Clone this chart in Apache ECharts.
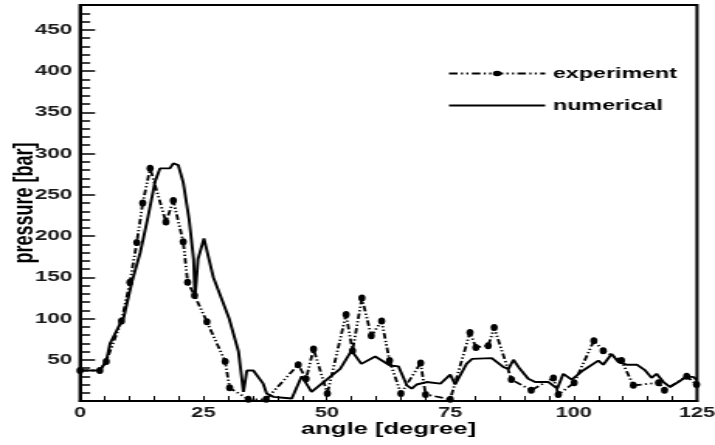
<!DOCTYPE html>
<html>
<head>
<meta charset="utf-8">
<script src="https://cdn.jsdelivr.net/npm/echarts@6/dist/echarts.min.js"></script>
<style>
  html, body { margin: 0; padding: 0; background: #fff; overflow: hidden; }
  #wrap { width: 715px; height: 445px; overflow: hidden; }
  /* the plot is laid out narrow and widened horizontally, giving the wide lettering */
  #chart { width: 461px; height: 445px; transform: scaleX(1.551); transform-origin: 0 0; }
</style>
</head>
<body>
<div id="wrap"><div id="chart"></div></div>
<script>
// measured pressure (dash-dot-dot with markers)
const expAngle = [0, 4, 5.3, 8.4, 10.1, 11.5, 12.7, 14.2, 17.4, 18.9, 20.9, 21.8, 23.2, 25.7, 29.4, 30.3,
  34.1, 37.7, 44.2, 45.8, 47.3, 50.1, 53.9, 55.2, 57.1, 59, 61.1, 62.7, 65, 69, 70, 75, 79, 80.2, 82.7, 83.9,
  87.4, 91.4, 95.9, 96.9, 100.1, 104.1, 106, 109.7, 112.1, 117.2, 118.4, 122.9, 124.9];
const expPressure = [37, 37, 48, 97, 144, 192, 240, 282, 217, 243, 193, 144, 128, 96, 48, 16,
  2, 2, 44, 27, 63, 9, 105, 61, 125, 79, 97, 49, 9, 46, 8, 2, 83, 65, 67, 89,
  26, 13, 28, 8, 22, 73, 61, 49, 19, 22, 13, 30, 20];

// simulated pressure (solid)
const numAngle = [0, 4, 5.3, 6.1, 8.4, 8.8, 10.5, 12.2, 13.8, 15.2, 16.2, 18.2, 18.9, 19.9, 20.9, 22.1, 23, 23.3,
  23.9, 25.1, 27, 30.2, 32.1, 33.1, 33.8, 35.1, 37.1, 37.8, 39.2, 41.1, 42.9, 44.9, 46.9, 50.6, 52.7, 55, 57,
  59.8, 62.8, 64.5, 66.2, 67.2, 68.2, 70.2, 73, 75, 76, 78.3, 79.4, 83.4, 85.8, 86.8, 87.8, 89.1, 90.8, 92.2,
  94.9, 96.7, 97.9, 99.6, 101.9, 105, 106, 107.7, 109.1, 110.7, 112.8, 114.5, 115.8, 116.8, 118.2, 119.5,
  121.2, 122.9, 124.3, 125];
const numPressure = [37, 37, 48, 70, 97, 100, 144, 180, 224, 266, 282, 282, 288, 286, 265, 220, 172, 126,
  172, 197, 150, 100, 60, 11, 37, 37, 21, 9, 5, 4, 3, 30, 11, 29, 39, 61, 45,
  54, 43, 42, 19, 15, 20, 23, 21, 32, 20, 45, 51, 52, 41, 39, 50, 39, 27, 23,
  23, 15, 33, 26, 37, 49, 44, 57, 47, 44, 44, 37, 28, 33, 23, 17,
  23, 30, 29, 25];

// axis ranges and labelled ticks
const angleRange = [0, 125];
const angleTicks = [0, 25, 50, 75, 100, 125];
const pressureRange = [0, 480];
const pressureTicks = [50, 100, 150, 200, 250, 300, 350, 400, 450];

const seriesNames = ['experiment', 'numerical'];
const axisTitles = ['angle [degree]', 'pressure [bar]'];

const pair = (xs, ys) => xs.map((x, i) => [x, ys[i]]);
const FONT = 'Liberation Sans, Arial, sans-serif';
const ellipse = 'path://M1,0A1,1,0,1,1,-1,0A1,1,0,1,1,1,0Z';

const chart = echarts.init(document.getElementById('chart'), null, { renderer: 'canvas' });
chart.setOption({
  animation: false,
  backgroundColor: '#fff',
  grid: {
    left: 51.6, right: 11.6, top: 5, bottom: 44,
    outerBoundsMode: 'none', containLabel: false,
    show: true, borderColor: '#000', borderWidth: 2, backgroundColor: 'transparent'
  },
  legend: {
    orient: 'vertical',
    left: 283.5, top: 61,
    itemWidth: 62, itemHeight: 7, itemGap: 17,
    textStyle: { fontFamily: FONT, fontWeight: 'bold', fontSize: 15, color: '#000' },
    data: [
      { name: seriesNames[0] },
      { name: seriesNames[1], itemStyle: { color: 'rgba(0,0,0,0)', opacity: 0, borderWidth: 0 } }
    ]
  },
  xAxis: {
    type: 'value',
    min: angleRange[0], max: angleRange[1], interval: 5,
    name: axisTitles[0], nameLocation: 'middle', nameGap: 20, nameMoveOverlap: false,
    nameTextStyle: { fontFamily: FONT, fontWeight: 'bold', fontSize: 16.5, color: '#000' },
    axisLine: { show: true, onZero: false, lineStyle: { color: '#000', width: 2 } },
    axisTick: { show: true, inside: true, length: 5, lineStyle: { color: '#000', width: 1 } },
    splitLine: { show: false },
    axisLabel: {
      fontFamily: FONT, fontWeight: 'bold', fontSize: 14, color: '#1a1a1a', margin: 5,
      formatter: v => (angleTicks.includes(v) ? String(v) : '')
    }
  },
  yAxis: [
    {
      type: 'value',
      min: pressureRange[0], max: pressureRange[1], interval: 50,
      name: axisTitles[1], nameLocation: 'middle', nameGap: 27, nameRotate: 90, nameMoveOverlap: false,
      nameTextStyle: { fontFamily: FONT, fontWeight: 'bold', fontSize: 18, color: '#000' },
      axisLine: { show: true, onZero: false, lineStyle: { color: '#000', width: 2 } },
      axisTick: { show: true, inside: true, length: 9.7, lineStyle: { color: '#000', width: 1.5 } },
      splitLine: { show: false },
      axisLabel: {
        fontFamily: FONT, fontWeight: 'bold', fontSize: 14.5, color: '#1a1a1a', margin: 5,
        formatter: v => (pressureTicks.includes(v) ? String(v) : '')
      }
    },
    {
      type: 'value',
      position: 'left',
      min: pressureRange[0], max: pressureRange[1], interval: 10,
      axisLine: { show: false },
      axisTick: { show: true, inside: true, length: 6.5, lineStyle: { color: '#000', width: 1.5 } },
      splitLine: { show: false },
      axisLabel: { show: false }
    }
  ],
  series: [
    {
      name: seriesNames[0],
      type: 'line',
      yAxisIndex: 0,
      data: pair(expAngle, expPressure),
      symbol: ellipse,
      symbolSize: [4.6, 7],
      showAllSymbol: true,
      itemStyle: { color: '#000' },
      lineStyle: { color: '#000', width: 1.8, type: [5.5, 2.2, 1.3, 2.2, 1.3, 2.2] },
      z: 3
    },
    {
      name: seriesNames[1],
      type: 'line',
      yAxisIndex: 0,
      data: pair(numAngle, numPressure),
      symbol: 'none',
      itemStyle: { color: '#000' },
      lineStyle: { color: '#000', width: 1.9, type: 'solid' },
      z: 2
    }
  ]
});
</script>
</body>
</html>
